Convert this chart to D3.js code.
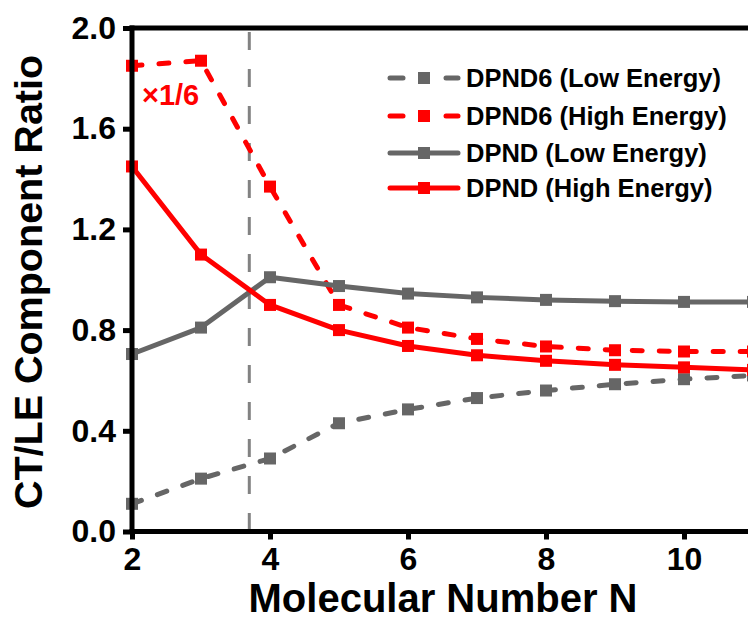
<!DOCTYPE html>
<html>
<head>
<meta charset="utf-8">
<script src="https://cdn.jsdelivr.net/npm/d3@7"></script>
<style>
  html, body { margin: 0; padding: 0; background: #fff; }
  svg { display: block; }
  text { font-family: "Liberation Sans", Arial, sans-serif; font-weight: bold; }
</style>
</head>
<body>
<svg id="chart" width="748" height="629"></svg>
<script>
// Molecular number N
const molecularN = [2, 3, 4, 5, 6, 7, 8, 9, 10, 11];

// CT/LE component ratios per series
const dpnd6Low  = [0.11, 0.21, 0.29, 0.43, 0.485, 0.53, 0.56, 0.585, 0.605, 0.62];
const dpnd6High = [1.85, 1.87, 1.37, 0.90, 0.81, 0.765, 0.735, 0.72, 0.715, 0.715];
const dpndLow   = [0.705, 0.81, 1.01, 0.975, 0.945, 0.93, 0.92, 0.915, 0.912, 0.912];
const dpndHigh  = [1.45, 1.10, 0.90, 0.80, 0.737, 0.70, 0.678, 0.662, 0.652, 0.642];

const seriesNames = ["DPND6 (Low Energy)", "DPND6 (High Energy)", "DPND (Low Energy)", "DPND (High Energy)"];

// Axis ticks
const xTicks = [2, 4, 6, 8, 10];
const yTicks = [0.0, 0.4, 0.8, 1.2, 1.6, 2.0];

// Threshold marker between N = 3 and N = 4
const thresholdN = 3.7;
const scaleNote = "×1/6";

const svg = d3.select("#chart");
const gray = "#666666", red = "#ff0000";

const x = d3.scaleLinear().domain([2, 11]).range([132, 753]);
const y = d3.scaleLinear().domain([0, 2]).range([531.5, 28]);

const series = [
  { name: seriesNames[0], values: dpnd6Low,  color: gray, dashed: true },
  { name: seriesNames[1], values: dpnd6High, color: red,  dashed: true },
  { name: seriesNames[2], values: dpndLow,   color: gray, dashed: false },
  { name: seriesNames[3], values: dpndHigh,  color: red,  dashed: false }
];

// Threshold line
svg.append("line")
  .attr("x1", x(thresholdN)).attr("x2", x(thresholdN))
  .attr("y1", y(2) + 4).attr("y2", y(0))
  .attr("stroke", "#828282").attr("stroke-width", 3)
  .attr("stroke-dasharray", "18,19");

// Data lines
const line = d3.line().x((d, i) => x(molecularN[i])).y(d => y(d));
const plot = svg.append("g");
series.forEach(s => {
  plot.append("path")
    .datum(s.values)
    .attr("d", line)
    .attr("fill", "none")
    .attr("stroke", s.color)
    .attr("stroke-width", 5)
    .attr("stroke-linejoin", "round")
    .attr("stroke-linecap", s.dashed ? "round" : "butt")
    .attr("stroke-dasharray", s.dashed ? "10,17" : null);
  plot.selectAll(null)
    .data(s.values)
    .enter().append("rect")
    .attr("x", (d, i) => x(molecularN[i]) - 6)
    .attr("y", d => y(d) - 6)
    .attr("width", 12).attr("height", 12)
    .attr("fill", s.color);
});

// Axes
const xAxis = d3.axisBottom(x).tickValues(xTicks).tickFormat(d3.format("d"))
  .tickSize(8).tickPadding(6);
const yAxis = d3.axisLeft(y).tickValues(yTicks).tickFormat(d3.format(".1f"))
  .tickSize(9).tickPadding(7);

const gx = svg.append("g").attr("transform", `translate(0,${y(0)})`).call(xAxis);
const gy = svg.append("g").attr("transform", `translate(${x(2)},0)`).call(yAxis);

[gx, gy].forEach(g => {
  g.select(".domain").remove();
  g.selectAll(".tick line").attr("stroke", "#000").attr("stroke-width", 5);
  g.selectAll(".tick text").attr("fill", "#000").style("font-size", "32px");
});
gx.selectAll(".tick text").attr("dy", "0.78em");

// Frame lines (bottom, left, top)
const frame = svg.append("g").attr("stroke", "#000").attr("stroke-width", 5);
frame.append("line").attr("x1", x(2) - 2.5).attr("x2", 748).attr("y1", y(0)).attr("y2", y(0));
frame.append("line").attr("x1", x(2)).attr("x2", x(2)).attr("y1", y(2) - 2.5).attr("y2", y(0) + 2.5);
frame.append("line").attr("x1", x(2) - 2.5).attr("x2", 748).attr("y1", y(2)).attr("y2", y(2));

// Axis titles
svg.append("text")
  .attr("x", 443).attr("y", 612)
  .attr("text-anchor", "middle")
  .style("font-size", "40px")
  .text("Molecular Number N");

svg.append("text")
  .attr("transform", "translate(42,282) rotate(-90)")
  .attr("text-anchor", "middle")
  .style("font-size", "39.5px")
  .text("CT/LE Component Ratio");

// Scale note for DPND6 high energy
svg.append("text")
  .attr("x", 142).attr("y", 105)
  .attr("fill", red)
  .style("font-size", "29px")
  .text(scaleNote);

// Legend
const legend = svg.append("g");
const rowY = [78, 116, 153, 188];
series.forEach((s, i) => {
  const g = legend.append("g").attr("transform", `translate(0,${rowY[i]})`);
  if (s.dashed) {
    [[390, 403], [446, 458]].forEach(([a, b]) => {
      g.append("line").attr("x1", a).attr("x2", b).attr("y1", 0).attr("y2", 0)
        .attr("stroke", s.color).attr("stroke-width", 5).attr("stroke-linecap", "round");
    });
  } else {
    g.append("line").attr("x1", 390).attr("x2", 458).attr("y1", 0).attr("y2", 0)
      .attr("stroke", s.color).attr("stroke-width", 5).attr("stroke-linecap", "round");
  }
  g.append("rect").attr("x", 418).attr("y", -6).attr("width", 12).attr("height", 12)
    .attr("fill", s.color);
  g.append("text").attr("x", 466).attr("y", 0).attr("dy", "0.35em")
    .style("font-size", "25.5px").attr("fill", "#000")
    .text(s.name);
});
</script>
</body>
</html>
